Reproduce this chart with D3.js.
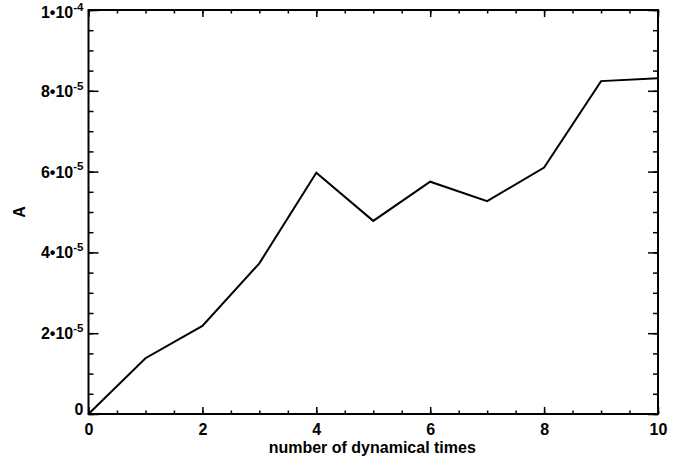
<!DOCTYPE html>
<html>
<head>
<meta charset="utf-8">
<script src="https://cdn.jsdelivr.net/npm/d3@7/dist/d3.min.js"></script>
<style>
  html, body { margin: 0; padding: 0; background: #fff; }
  svg { display: block; }
  text { font-family: "Liberation Sans", Arial, Helvetica, sans-serif; font-weight: bold; fill: #000; }
</style>
</head>
<body>
<svg id="chart" width="680" height="460"></svg>
<script>
// Amplitude A over the number of dynamical times
const times = [0, 1, 2, 3, 4, 5, 6, 7, 8, 9, 10];
const amplitude = [0, 1.38e-5, 2.18e-5, 3.73e-5, 5.97e-5, 4.78e-5, 5.75e-5, 5.27e-5, 6.10e-5, 8.24e-5, 8.31e-5];

const xMajorTicks = [0, 2, 4, 6, 8, 10];
const xMinorTicks = d3.range(0, 10.01, 0.5);
const yMajorTicks = [0, 2e-5, 4e-5, 6e-5, 8e-5, 1e-4];
const yMinorTicks = d3.range(0, 21).map(i => i * 0.5e-5);
// mantissa, exponent for each y tick label
const yTickLabels = [["0", ""], ["2•10", "-5"], ["4•10", "-5"], ["6•10", "-5"], ["8•10", "-5"], ["1•10", "-4"]];

const xTitle = "number of dynamical times";
const yTitle = "A";

const svg = d3.select("#chart");
const plotLeft = 88.5, plotRight = 658, plotTop = 10, plotBottom = 414;

const x = d3.scaleLinear().domain([0, 10]).range([plotLeft, plotRight]);
const y = d3.scaleLinear().domain([0, 1e-4]).range([plotBottom, plotTop]);

const xMajLen = 7, xMinLen = 3.5, yMajLen = 10, yMinLen = 5;
const labelSize = 16, supSize = 11.5;

function styleAxis(g) {
  g.select(".domain").remove();
  g.selectAll(".tick line").attr("stroke", "#000").attr("stroke-width", 1.5);
}

// bottom axis, ticks pointing inward
svg.append("g").attr("transform", `translate(0,${plotBottom})`)
  .call(d3.axisBottom(x).tickValues(xMinorTicks).tickSize(-xMinLen).tickFormat(""))
  .call(styleAxis);
const xb = svg.append("g").attr("transform", `translate(0,${plotBottom})`)
  .call(d3.axisBottom(x).tickValues(xMajorTicks).tickSize(-xMajLen).tickPadding(0).tickFormat(d3.format("d")))
  .call(styleAxis);
xb.selectAll(".tick text").attr("y", 21).attr("dy", 0).style("font-size", labelSize + "px").attr("fill", "#000");

// top axis
svg.append("g").attr("transform", `translate(0,${plotTop})`)
  .call(d3.axisTop(x).tickValues(xMinorTicks).tickSize(-xMinLen).tickFormat(""))
  .call(styleAxis);
svg.append("g").attr("transform", `translate(0,${plotTop})`)
  .call(d3.axisTop(x).tickValues(xMajorTicks).tickSize(-xMajLen).tickFormat(""))
  .call(styleAxis);

// left axis
svg.append("g").attr("transform", `translate(${plotLeft},0)`)
  .call(d3.axisLeft(y).tickValues(yMinorTicks).tickSize(-yMinLen).tickFormat(""))
  .call(styleAxis);
const yl = svg.append("g").attr("transform", `translate(${plotLeft},0)`)
  .call(d3.axisLeft(y).tickValues(yMajorTicks).tickSize(-yMajLen).tickFormat(""))
  .call(styleAxis);
yl.selectAll(".tick").each(function(d, i) {
  const [mant, exp] = yTickLabels[i];
  const ty = y(d);
  // baseline just under the tick, kept clear of the top edge
  const base = exp === "" ? 0.5 : Math.max(5.5, 17.3 - ty);
  const t = d3.select(this).select("text")
    .attr("x", -5).attr("y", base).attr("dy", null)
    .attr("text-anchor", "end").style("font-size", labelSize + "px").attr("fill", "#000")
    .text(null);
  if (exp === "") {
    t.text(mant);
  } else {
    t.append("tspan").text(mant);
    t.append("tspan").attr("dy", -7.3).style("font-size", supSize + "px").text(exp);
  }
});

// right axis
svg.append("g").attr("transform", `translate(${plotRight},0)`)
  .call(d3.axisRight(y).tickValues(yMinorTicks).tickSize(-yMinLen).tickFormat(""))
  .call(styleAxis);
svg.append("g").attr("transform", `translate(${plotRight},0)`)
  .call(d3.axisRight(y).tickValues(yMajorTicks).tickSize(-yMajLen).tickFormat(""))
  .call(styleAxis);

// frame
svg.append("rect")
  .attr("x", plotLeft).attr("y", plotTop)
  .attr("width", plotRight - plotLeft).attr("height", plotBottom - plotTop)
  .attr("fill", "none").attr("stroke", "#000").attr("stroke-width", 2);

// data line
const line = d3.line().x((d, i) => x(times[i])).y(d => y(d));
svg.append("path")
  .datum(amplitude)
  .attr("d", line)
  .attr("fill", "none")
  .attr("stroke", "#000")
  .attr("stroke-width", 2)
  .attr("stroke-linejoin", "miter");

// titles
svg.append("text")
  .attr("x", (plotLeft + plotRight) / 2 - 1).attr("y", 452.5)
  .attr("text-anchor", "middle").style("font-size", labelSize + "px")
  .text(xTitle);
svg.append("text")
  .attr("transform", `translate(24.5,212) rotate(-90)`)
  .attr("text-anchor", "middle").style("font-size", labelSize + "px")
  .text(yTitle);
</script>
</body>
</html>
